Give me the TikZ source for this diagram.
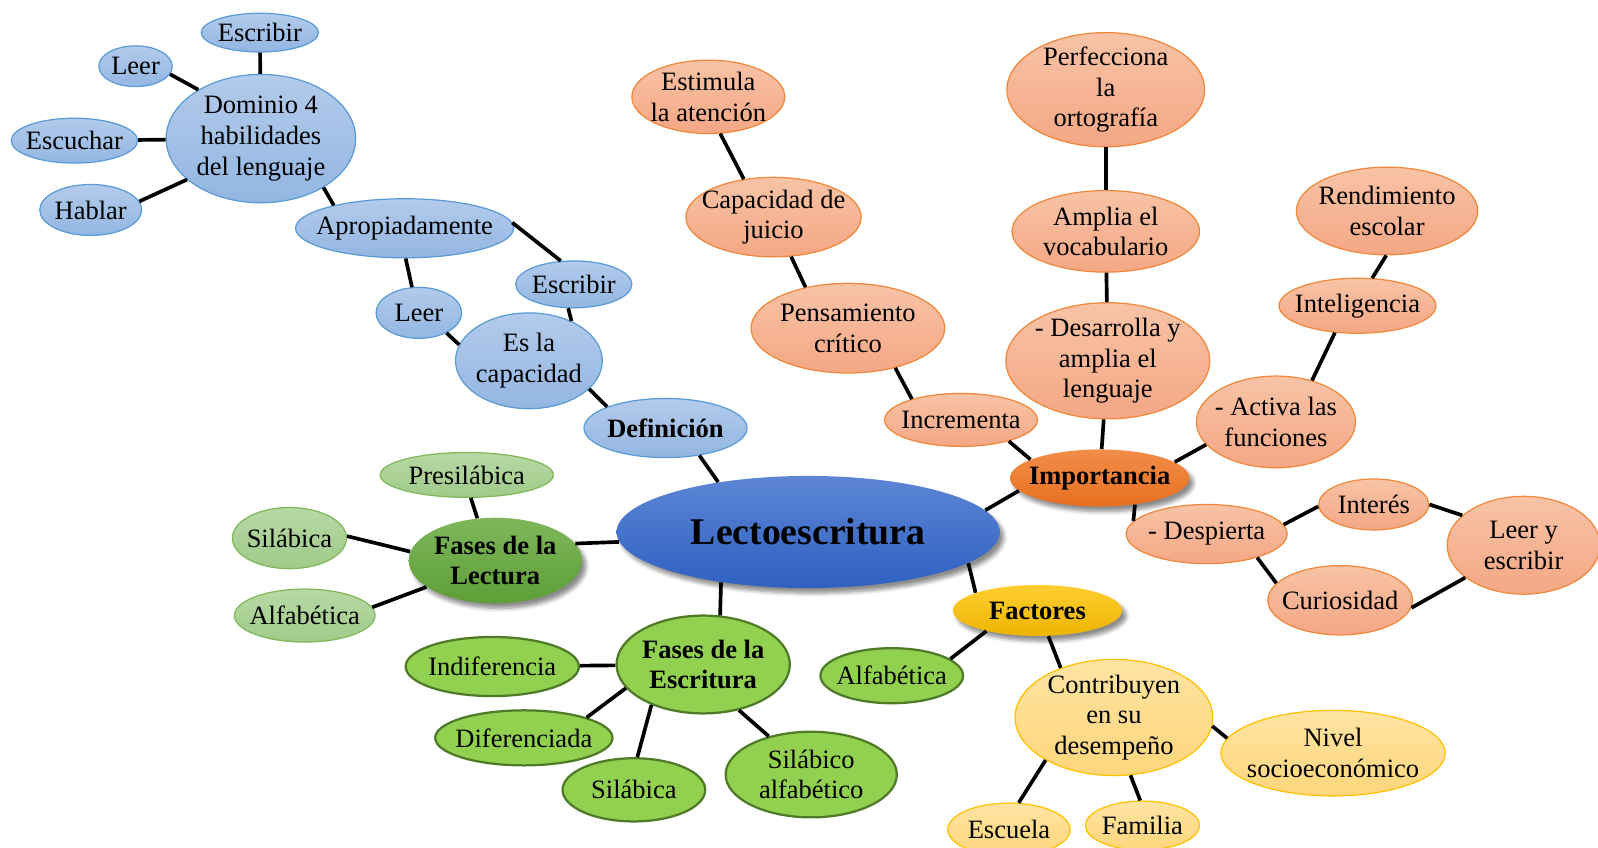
\documentclass[tikz,border=0pt]{standalone}
\usepackage{fontspec}
\setmainfont{Liberation Serif}
\usetikzlibrary{shapes.geometric,shadows.blur}
\definecolor{bluT}{HTML}{B3CBEB}\definecolor{bluB}{HTML}{93B6E2}\definecolor{bluD}{HTML}{5B9BD5}
\definecolor{orT}{HTML}{F8C3A6}\definecolor{orB}{HTML}{F4A784}\definecolor{orD}{HTML}{F0873A}
\definecolor{impT}{HTML}{F28D4A}\definecolor{impB}{HTML}{E8701F}
\definecolor{lecT}{HTML}{5C85D4}\definecolor{lecB}{HTML}{2F61C2}
\definecolor{lgT}{HTML}{B7D9A6}\definecolor{lgB}{HTML}{A0CA89}\definecolor{lgD}{HTML}{7FB85A}
\definecolor{flT}{HTML}{7EB75B}\definecolor{flB}{HTML}{5E9E36}
\definecolor{mg}{HTML}{92D050}\definecolor{mgD}{HTML}{4F7A28}
\definecolor{faT}{HTML}{FFCE30}\definecolor{faB}{HTML}{EDB400}
\definecolor{ylT}{HTML}{FFE4A2}\definecolor{ylB}{HTML}{FFD67C}\definecolor{ylD}{HTML}{FFC000}
\tikzset{
  base/.style={ellipse, inner sep=-30pt, align=center, font=\fontsize{13}{15}\selectfont},
  blu/.style={base, draw=bluD, line width=0.6pt, top color=bluT, bottom color=bluB},
  ora/.style={base, draw=orD, line width=0.6pt, top color=orT, bottom color=orB},
  lgr/.style={base, draw=lgD, line width=0.6pt, top color=lgT, bottom color=lgB},
  mgr/.style={base, draw=mgD, line width=1.1pt, fill=mg},
  ylw/.style={base, draw=ylD, line width=0.6pt, top color=ylT, bottom color=ylB},
  shd/.style={blur shadow={shadow xshift=2pt, shadow yshift=-2.5pt, shadow blur steps=6, shadow opacity=45}},
  hub/.style={base, shd, font=\fontsize{13}{15}\selectfont\bfseries},
  conn/.style={line width=1.8pt, black},
}
\begin{document}
\begin{tikzpicture}[x=0.5pt,y=-0.5pt]
\useasboundingbox (0,0) rectangle (1568,832);
% ---------- Blue ----------
\node[blu, minimum width=57.5pt, minimum height=19pt] (esc1) at (255,32) {Escribir};
\node[blu, minimum width=36pt, minimum height=20pt] (leer1) at (133,65) {Leer};
\node[blu, minimum width=93pt, minimum height=63pt] (dom) at (256,136) {Dominio 4\\habilidades\\del lenguaje};
\node[blu, minimum width=62pt, minimum height=22pt] (escu) at (73,138) {Escuchar};
\node[blu, minimum width=50pt, minimum height=25pt] (habl) at (89,206) {Hablar};
\node[blu, minimum width=107pt, minimum height=29pt] (apro) at (397,224) {Apropiadamente};
\node[blu, minimum width=57pt, minimum height=23pt] (esc2) at (563,279) {Escribir};
\node[blu, minimum width=42pt, minimum height=25pt] (leer2) at (411,307) {Leer};
\node[blu, minimum width=72pt, minimum height=47pt] (esla) at (519,354) {Es la\\capacidad};
\node[blu, font=\fontsize{13}{15}\selectfont\bfseries, minimum width=80pt, minimum height=29pt] (def) at (653,420) {Definición};
% ---------- Orange ----------
\node[ora, minimum width=75pt, minimum height=36pt] (estim) at (695,95) {Estimula\\la atención};
\node[ora, minimum width=86pt, minimum height=39pt] (capa) at (759,213) {Capacidad de\\juicio};
\node[ora, minimum width=95pt, minimum height=44pt] (pens) at (832,322) {Pensamiento\\crítico};
\node[ora, minimum width=75pt, minimum height=26pt] (incr) at (943,412) {Incrementa};
\node[ora, minimum width=97pt, minimum height=56pt] (perf) at (1085,88) {Perfecciona\\la\\ortografía};
\node[ora, minimum width=92pt, minimum height=40pt] (ampl) at (1085,227) {Amplia el\\vocabulario};
\node[ora, minimum width=100pt, minimum height=57pt] (desa) at (1087,354) {- Desarrolla y\\amplia el\\lenguaje};
\node[hub, top color=impT, bottom color=impB, minimum width=88pt, minimum height=28pt] (impo) at (1079,469) {Importancia};
\node[ora, minimum width=89pt, minimum height=43pt] (rend) at (1361,207) {Rendimiento\\escolar};
\node[ora, minimum width=77pt, minimum height=27pt] (inte) at (1332,300) {Inteligencia};
\node[ora, minimum width=78pt, minimum height=45pt] (acti) at (1252,414) {- Activa las\\funciones};
\node[ora, minimum width=79pt, minimum height=29pt] (desp) at (1184,524) {- Despierta};
\node[ora, minimum width=54pt, minimum height=25pt] (inter) at (1348,495) {Interés};
\node[ora, minimum width=75pt, minimum height=48pt] (leye) at (1495,535) {Leer y\\escribir};
\node[ora, minimum width=71pt, minimum height=34pt] (curi) at (1315,589) {Curiosidad};
% ---------- Centre ----------
\node[hub, font=\fontsize{18.5}{22}\selectfont\bfseries, top color=lecT, bottom color=lecB, minimum width=188pt, minimum height=55pt] (lecto) at (793,522) {Lectoescritura};
% ---------- Green ----------
\node[hub, top color=flT, bottom color=flB, minimum width=85pt, minimum height=42pt] (fl) at (486,550) {Fases de la\\Lectura};
\node[lgr, minimum width=85pt, minimum height=22pt] (pres) at (458,466) {Presilábica};
\node[lgr, minimum width=56pt, minimum height=30pt] (sil1) at (284,528) {Silábica};
\node[lgr, minimum width=69pt, minimum height=26pt] (alf1) at (299,604) {Alfabética};
\node[mgr, font=\fontsize{13}{15}\selectfont\bfseries, minimum width=85pt, minimum height=48pt] (fe) at (690,652) {Fases de la\\Escritura};
\node[mgr, minimum width=85pt, minimum height=29pt] (indi) at (483,654) {Indiferencia};
\node[mgr, minimum width=87pt, minimum height=27pt] (dife) at (514,724) {Diferenciada};
\node[mgr, minimum width=70pt, minimum height=31pt] (sil2) at (622,775) {Silábica};
\node[mgr, minimum width=84pt, minimum height=42pt] (sila) at (796,760) {Silábico\\alfabético};
% ---------- Yellow ----------
\node[hub, top color=faT, bottom color=faB, minimum width=83pt, minimum height=25pt] (fac) at (1018,599) {Factores};
\node[mgr, minimum width=70pt, minimum height=27pt] (alf2) at (875,663) {Alfabética};
\node[ylw, minimum width=97pt, minimum height=57pt] (cont) at (1093,704) {Contribuyen\\en su\\desempeño};
\node[ylw, minimum width=110pt, minimum height=42pt] (nive) at (1308,739) {Nivel\\socioeconómico};
\node[ylw, minimum width=60pt, minimum height=26pt] (escu2) at (990,814) {Escuela};
\node[ylw, minimum width=56pt, minimum height=24pt] (fami) at (1121,810) {Familia};
% ---------- Connectors ----------
\begin{scope}[conn]
\draw (esc1) -- (dom);
\draw (leer1.-13) -- (dom.142);
\draw (escu) -- (dom);
\draw (habl.10) -- (dom.209);
\draw (dom.-38) -- (apro.162);
\draw (apro.3) -- (esc2.119);
\draw (apro.-88) -- (leer2.105);
\draw (esc2.-103) -- (esla.43);
\draw (leer2.-36) -- (esla.167);
\draw (esla.-25) -- (def.160);
\draw (def.-39) -- (lecto.151);
\draw (estim.-72) -- (capa.128);
\draw (capa.-66) -- (pens.136);
\draw (pens.-40) -- (incr.157);
\draw (incr.-24) -- (impo.165);
\draw (perf) -- (ampl);
\draw (ampl) -- (desa);
\draw (desa) -- (impo);
\draw (impo.12) -- (acti.198);
\draw (acti.49) -- (inte.-130);
\draw (inte.62) -- (rend.-91);
\draw (impo.-37) -- (desp.170);
\draw (desp.7) -- (inter.182);
\draw (inter.0) -- (leye.154);
\draw (desp.-25) -- (curi.165);
\draw (curi.-6) -- (leye.209);
\draw (lecto.7.6) -- (impo.189);
\draw (lecto.183) -- (fl.12);
\draw (pres.-80) -- (fl.113);
\draw (sil1.2) -- (fl.174);
\draw (alf1.7) -- (fl.201);
\draw (lecto.210) -- (fe.71);
\draw (indi) -- (fe);
\draw (dife.18) -- (fe.197);
\draw (sil2.84) -- (fe.218);
\draw (sila.138) -- (fe.-52);
\draw (lecto.-11) -- (fac.164);
\draw (fac.202) -- (alf2.16);
\draw (fac.-67) -- (cont.137);
\draw (cont.-5) -- (nive.172);
\draw (cont.212) -- (escu2.70);
\draw (cont.-74) -- (fami.95);
\end{scope}
\end{tikzpicture}
\end{document}
